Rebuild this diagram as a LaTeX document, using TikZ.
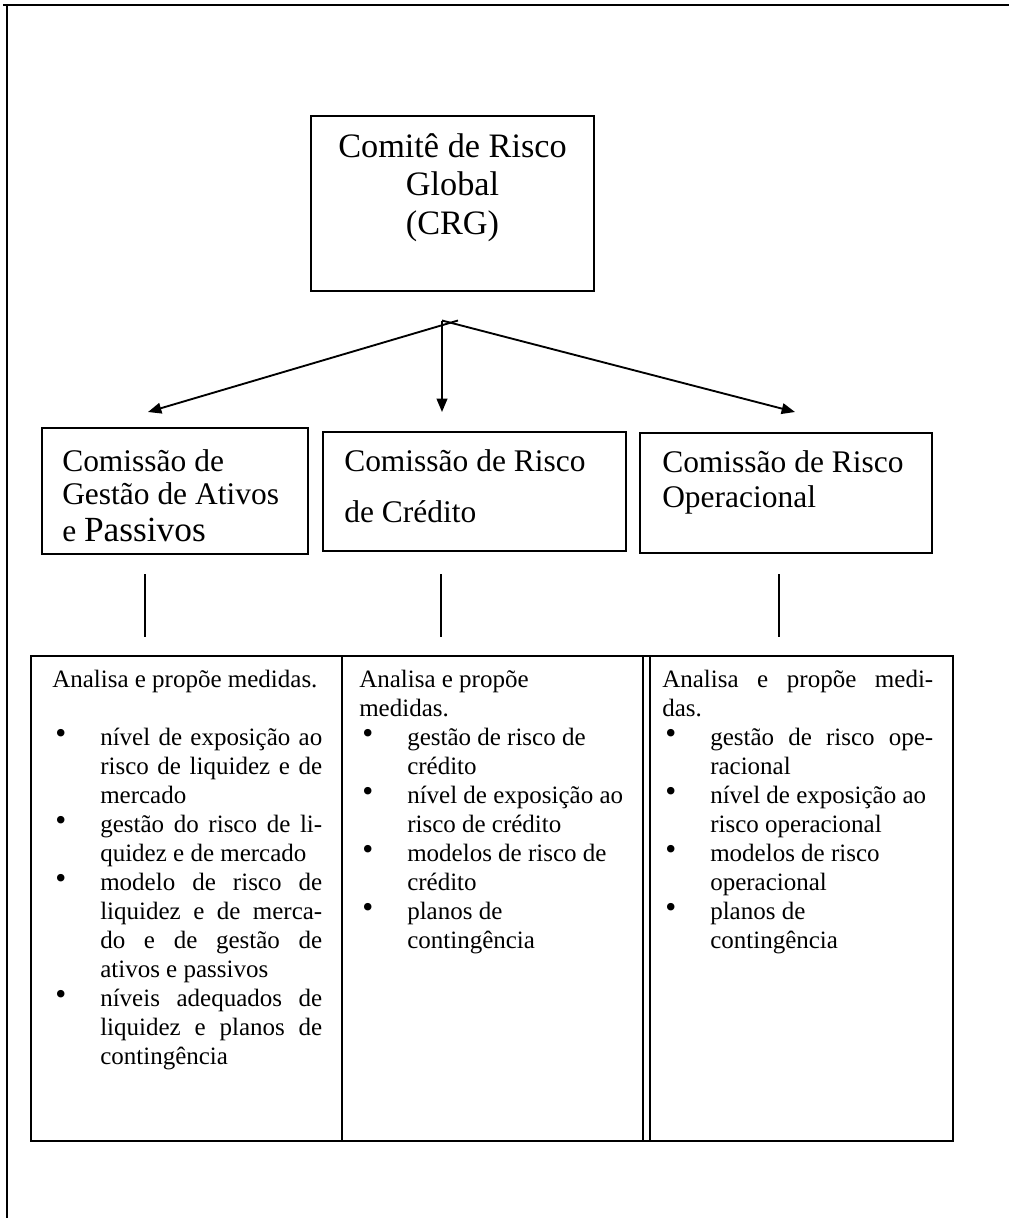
\documentclass[tikz,border=0pt]{standalone}
\usepackage{fontspec}
\setmainfont{Liberation Serif}
\usetikzlibrary{arrows.meta}

\newlength\pxu
\setlength\pxu{0.75pt}
% justified cell text, no automatic hyphenation
\newcommand\cellsetup{\hyphenpenalty=10000 \exhyphenpenalty=10000 \tolerance=10000 \hbadness=10000 \parindent=0pt}
\newcommand\bul{\par\hangindent=48\pxu\hangafter=1\noindent\hspace*{3\pxu}\makebox[45\pxu][l]{\raisebox{1.5\pxu}{\scalebox{1.25}{\textbullet}}}\ignorespaces}

\begin{document}
\begin{tikzpicture}[x=0.75pt,y=-0.75pt,
	rbox/.style={draw,line width=1.5pt,inner sep=0pt},
	hdrtext/.style={anchor=base west,inner sep=0pt,font=\fontsize{23.6pt}{24.75pt}\selectfont},
	celltext/.style={anchor=base west,inner sep=0pt,font=\fontsize{18.75pt}{21.75pt}\selectfont},
	arr/.style={line width=1.4pt,-{Triangle[length=10pt,width=8pt]}},
	link/.style={line width=1.1pt}]
	\useasboundingbox (0,0) rectangle (1009,1218);
	% outer frame (top and left only)
	\draw[line width=1.5pt] (3,5) -- (7,5) -- (7,1218);
	\draw[line width=1.5pt] (3,5) -- (1009,5);

	% top committee
	\node[rbox,minimum width=283\pxu,minimum height=175\pxu] (crg) at (452.5,203.5) {};
	\node[anchor=base,inner sep=0pt,font=\fontsize{25.7pt}{28.9pt}\selectfont] (crgT) at (452.5,157)
		{\parbox[t]{270\pxu}{\centering Comitê de Risco\\Global\\(CRG)}};

	% commissions
	\node[rbox,minimum width=266\pxu,minimum height=126\pxu] (gap) at (175,491) {};
	\node[rbox,minimum width=303\pxu,minimum height=119\pxu] (crd) at (474.5,491.5) {};
	\node[rbox,minimum width=292\pxu,minimum height=120\pxu] (opr) at (786,493) {};
	\node[hdrtext] (gapT) at (62,471)
		{\parbox[t]{250\pxu}{Comissão de\\Gestão de Ativos\\[4\pxu]e {\fontsize{26.5pt}{30pt}\selectfont Passivos}}};
	\node[hdrtext] (crdT) at (344,471) {\parbox[t]{270\pxu}{Comissão de Risco\\[18\pxu]de Crédito}};
	\node[hdrtext] (oprT) at (662,472) {\parbox[t]{265\pxu}{Comissão de Risco\\[2\pxu]Operacional}};

	% arrows from the fork
	\coordinate (fork) at (442,321);
	\coordinate (forkL) at (458,320.5);
	\coordinate (forkR) at (442,320.5);
	\coordinate (tipL) at (148,412);
	\coordinate (tipC) at (442,412);
	\coordinate (tipR) at (795,412);
	\draw[arr] (forkL) -- (tipL);
	\draw[arr] (fork) -- (tipC);
	\draw[arr] (forkR) -- (tipR);

	% links down to the table
	\coordinate (gapA) at (145,574); \coordinate (gapB) at (145,637);
	\coordinate (crdA) at (441,574); \coordinate (crdB) at (441,637);
	\coordinate (oprA) at (779,574); \coordinate (oprB) at (779,637);
	\draw[link] (gapA) -- (gapB);
	\draw[link] (crdA) -- (crdB);
	\draw[link] (oprA) -- (oprB);

	% table
	\node[rbox,minimum width=922\pxu,minimum height=485\pxu] (tab) at (492,898.5) {};
	\draw[line width=1.2pt] (342,656) -- (342,1141);
	\draw[line width=1.2pt] (643,656) -- (643,1141);
	\draw[line width=1.2pt] (650,656) -- (650,1141);

	\node[celltext] (gapL) at (52,687) {\parbox[t]{270\pxu}{\cellsetup
		Analisa e propõe medidas.\par\vspace{\baselineskip}
		\bul nível de exposição ao\linebreak risco de liquidez e de\linebreak mercado
		\bul gestão do risco de li-\linebreak quidez e de mercado
		\bul modelo de risco de\linebreak liquidez e de merca-\linebreak do e de gestão de\linebreak ativos e passivos
		\bul níveis adequados de\linebreak liquidez e planos de\linebreak contingência\par}};
	\node[celltext] (crdL) at (359,687) {\parbox[t]{272\pxu}{\cellsetup
		Analisa e propõe\newline medidas.
		\bul gestão de risco de\newline crédito
		\bul nível de exposição ao\newline risco de crédito
		\bul modelos de risco de\newline crédito
		\bul planos de\newline contingência\par}};
	\node[celltext] (oprL) at (662,687) {\parbox[t]{271\pxu}{\cellsetup
		Analisa e propõe medi-\linebreak das.
		\bul gestão de risco ope-\linebreak racional
		\bul nível de exposição ao\newline risco operacional
		\bul modelos de risco\newline operacional
		\bul planos de\newline contingência\par}};
\end{tikzpicture}
\end{document}
